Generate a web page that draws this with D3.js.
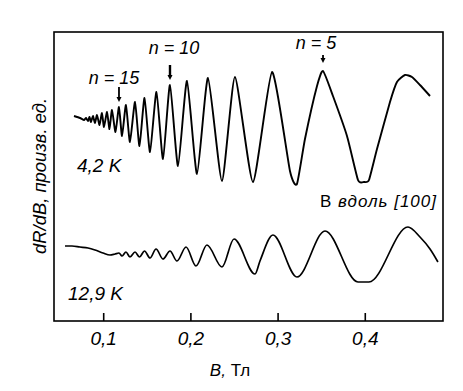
<!DOCTYPE html>
<html>
<head>
<meta charset="utf-8">
<script src="https://cdn.jsdelivr.net/npm/d3@7"></script>
<style>
  html, body { margin: 0; padding: 0; background: #fff; }
  svg { display: block; }
  text { font-family: "Liberation Sans", "DejaVu Sans", sans-serif; fill: #000; }
</style>
</head>
<body>
<svg id="chart" width="463" height="391"></svg>
<script>
// ---- data (B in T, dR/dB in arbitrary units) ----
const curve42B = [0.0665,0.0734,0.0780,0.0803,0.0826,0.0843,0.0860,0.0883,0.0906,0.0929,0.0958,0.0986,0.1009,0.1044,0.1072,0.1101,0.1141,0.1181,0.1216,0.1261,0.1307,0.1365,0.1416,0.1474,0.1537,0.1611,0.1686,0.1766,0.1858,0.1961,0.2076,0.2202,0.2362,0.2511,0.2718,0.2936,0.3142,0.3222,0.3314,0.3452,0.3521,0.3635,0.3796,0.3922,0.3991,0.4048,0.4140,0.4289,0.4369,0.4461,0.4541,0.4633,0.4748];
const curve42V = [20.5,20.3,20.1,20.3,20.0,20.4,19.9,20.5,19.8,20.6,19.6,20.8,19.4,20.9,19.2,21.1,18.9,21.4,18.5,21.6,17.9,21.9,17.5,22.3,16.9,22.9,16.2,23.6,15.5,24.0,14.7,24.3,14.0,24.4,13.9,24.9,15.0,13.7,18.2,23.5,25.0,22.5,18.5,14.1,13.9,14.1,17.2,21.9,23.9,24.6,24.4,23.6,22.5];

const curve129B = [0.0562,0.0642,0.0734,0.0826,0.0906,0.0998,0.1078,0.1135,0.1181,0.1216,0.1261,0.1307,0.1365,0.1416,0.1474,0.1537,0.1606,0.1686,0.1766,0.1846,0.1950,0.2064,0.2190,0.2362,0.2500,0.2741,0.2798,0.2947,0.3222,0.3544,0.3922,0.4048,0.4495,0.4633,0.4748,0.4839];
const curve129V = [7.5,7.5,7.4,7.3,7.1,6.8,6.6,6.7,6.8,6.5,6.9,6.4,6.9,6.4,7.0,6.3,7.2,6.2,7.0,6.0,7.4,5.5,7.6,5.4,8.2,4.7,6.0,8.6,4.4,9.0,3.9,3.9,9.4,8.4,7.2,5.9];

const xTicks = [0.1, 0.2, 0.3, 0.4];
const xTickLabels = ["0,1", "0,2", "0,3", "0,4"];

const markerLabels = ["n = 15", "n = 10", "n = 5"];
const markerB = [0.1181, 0.1766, 0.3521];
const markerTop = [23.4, 25.6, 26.6];
const markerBottom = [21.9, 24.1, 25.8];

const curveLabels = ["4,2 K", "12,9 K"];

// ---- layout ----
const svg = d3.select("#chart");
const mLeft = 54, mRight = 443, mTop = 32, mBottom = 321;

const x = d3.scaleLinear().domain([0.04358, 0.4897]).range([mLeft, mRight]);
const y = d3.scaleLinear().domain([0, 28.9]).range([mBottom, mTop]);

// frame
svg.append("rect")
  .attr("x", mLeft).attr("y", mTop)
  .attr("width", mRight - mLeft).attr("height", mBottom - mTop)
  .attr("fill", "none").attr("stroke", "#000").attr("stroke-width", 1.6);

// x axis with inward ticks
const xAxis = d3.axisBottom(x)
  .tickValues(xTicks)
  .tickFormat((d, i) => xTickLabels[i])
  .tickSizeInner(-8).tickSizeOuter(0).tickPadding(11);
const gx = svg.append("g").attr("transform", `translate(0,${mBottom})`).call(xAxis);
gx.select(".domain").remove();
gx.selectAll(".tick line").attr("stroke", "#000").attr("stroke-width", 1.6);
gx.selectAll(".tick text")
  .attr("font-size", 19).attr("font-style", "italic").attr("fill", "#000")
  .attr("font-family", "Liberation Sans, DejaVu Sans, sans-serif");

// curves
const line42 = d3.line()
  .x(d => x(d[0])).y(d => y(d[1]))
  .curve(d3.curveCardinal.tension(0.45));
const line129 = d3.line()
  .x(d => x(d[0])).y(d => y(d[1]))
  .curve(d3.curveMonotoneX);

const pts42 = curve42B.map((b, i) => [b, curve42V[i]]);
const pts129 = curve129B.map((b, i) => [b, curve129V[i]]);

svg.append("path").datum(pts42).attr("d", line42)
  .attr("fill", "none").attr("stroke", "#000").attr("stroke-width", 1.9)
  .attr("stroke-linejoin", "round");
svg.append("path").datum(pts129).attr("d", line129)
  .attr("fill", "none").attr("stroke", "#000").attr("stroke-width", 1.7)
  .attr("stroke-linejoin", "round");

// arrows and n labels
const labelDx = [-5, 4, -7];
const labelGap = [3, 11, 6];
markerB.forEach((b, i) => {
  const xb = x(b), y0 = y(markerTop[i]), y1 = y(markerBottom[i]);
  svg.append("line").attr("x1", xb).attr("x2", xb).attr("y1", y0).attr("y2", y1 - 3)
    .attr("stroke", "#000").attr("stroke-width", i === 1 ? 2.4 : 1.8);
  svg.append("path")
    .attr("d", `M${xb - 2.5},${y1 - 5}L${xb + 2.5},${y1 - 5}L${xb},${y1}Z`)
    .attr("fill", "#000");
  svg.append("text")
    .attr("x", xb + labelDx[i]).attr("y", y0 - labelGap[i])
    .attr("text-anchor", "middle")
    .attr("font-size", 18).attr("font-style", "italic")
    .text(markerLabels[i]);
});

// temperature labels
svg.append("text").attr("x", 77).attr("y", 172)
  .attr("font-size", 19).attr("font-style", "italic").text(curveLabels[0]);
svg.append("text").attr("x", 68).attr("y", 300)
  .attr("font-size", 19).attr("font-style", "italic").text(curveLabels[1]);

// direction label
const dir = svg.append("text").attr("x", 320).attr("y", 207).attr("font-size", 17)
  .attr("textLength", 116).attr("lengthAdjust", "spacing");
dir.append("tspan").text("B ");
dir.append("tspan").attr("font-style", "italic").text("вдоль [100]");

// axis titles
const xt = svg.append("text").attr("x", 230).attr("y", 376)
  .attr("text-anchor", "middle").attr("font-size", 17);
xt.append("tspan").attr("font-style", "italic").text("B, ");
xt.append("tspan").text("Тл");

svg.append("text")
  .attr("transform", "translate(46,176) rotate(-90)")
  .attr("text-anchor", "middle")
  .attr("font-size", 19).attr("font-style", "italic")
  .attr("textLength", 156).attr("lengthAdjust", "spacingAndGlyphs")
  .text("dR/dB, произв. ед.");
</script>
</body>
</html>
